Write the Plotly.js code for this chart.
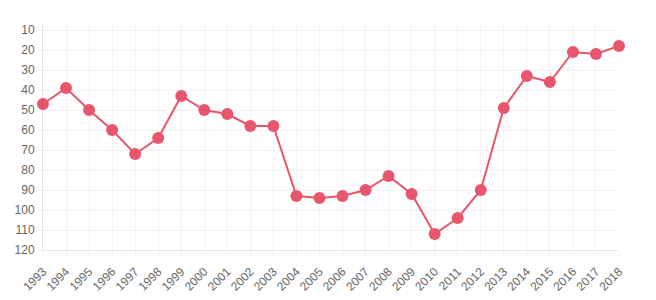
<!DOCTYPE html>
<html>
<head>
<meta charset="utf-8">
<script src="https://cdn.plot.ly/plotly-3.0.1.min.js"></script>
<style>
html,body{margin:0;padding:0;background:#fff;}
#chart{width:656px;height:300px;}
</style>
</head>
<body>
<div id="chart"></div>
<script>
const years = ['1993','1994','1995','1996','1997','1998','1999','2000','2001','2002','2003','2004','2005','2006','2007','2008','2009','2010','2011','2012','2013','2014','2015','2016','2017','2018'];
const ranks = [47,39,50,60,72,64,43,50,52,58,58,93,94,93,90,83,92,112,104,90,49,33,36,21,22,18];
const yTicks = [10,20,30,40,50,60,70,80,90,100,110,120];

const lineColor = '#e8566c';
const trace = {
  x: years,
  y: ranks,
  type: 'scatter',
  mode: 'lines+markers',
  line: {color: lineColor, width: 2},
  marker: {color: lineColor, size: 12},
  cliponaxis: false,
  hoverinfo: 'x+y'
};

const layout = {
  width: 656,
  height: 300,
  margin: {l: 43, r: 37, t: 24, b: 50, pad: 0},
  paper_bgcolor: '#fff',
  plot_bgcolor: '#fff',
  showlegend: false,
  font: {family: 'Liberation Sans, Arial, sans-serif', size: 12, color: '#666'},
  xaxis: {
    type: 'category',
    range: [0, years.length - 1],
    tickangle: -45,
    showgrid: true,
    gridcolor: 'rgba(0,0,0,0.05)',
    gridwidth: 1,
    showline: true,
    linecolor: 'rgba(0,0,0,0.1)',
    linewidth: 1,
    ticks: 'outside',
    ticklen: 5,
    tickcolor: 'rgba(0,0,0,0.05)',
    ticklabelstandoff: 4,
    tickfont: {size: 12, color: '#666'},
    zeroline: false,
    fixedrange: true
  },
  yaxis: {
    range: [120, 7],
    tickvals: yTicks,
    ticktext: yTicks.map(String),
    showgrid: true,
    gridcolor: 'rgba(0,0,0,0.05)',
    gridwidth: 1,
    showline: true,
    linecolor: 'rgba(0,0,0,0.1)',
    linewidth: 1,
    ticks: 'outside',
    ticklen: 5,
    tickcolor: 'rgba(0,0,0,0.05)',
    tickfont: {size: 12, color: '#666'},
    zeroline: false,
    fixedrange: true
  }
};

Plotly.newPlot('chart', [trace], layout, {displayModeBar: false, staticPlot: true});
</script>
</body>
</html>
